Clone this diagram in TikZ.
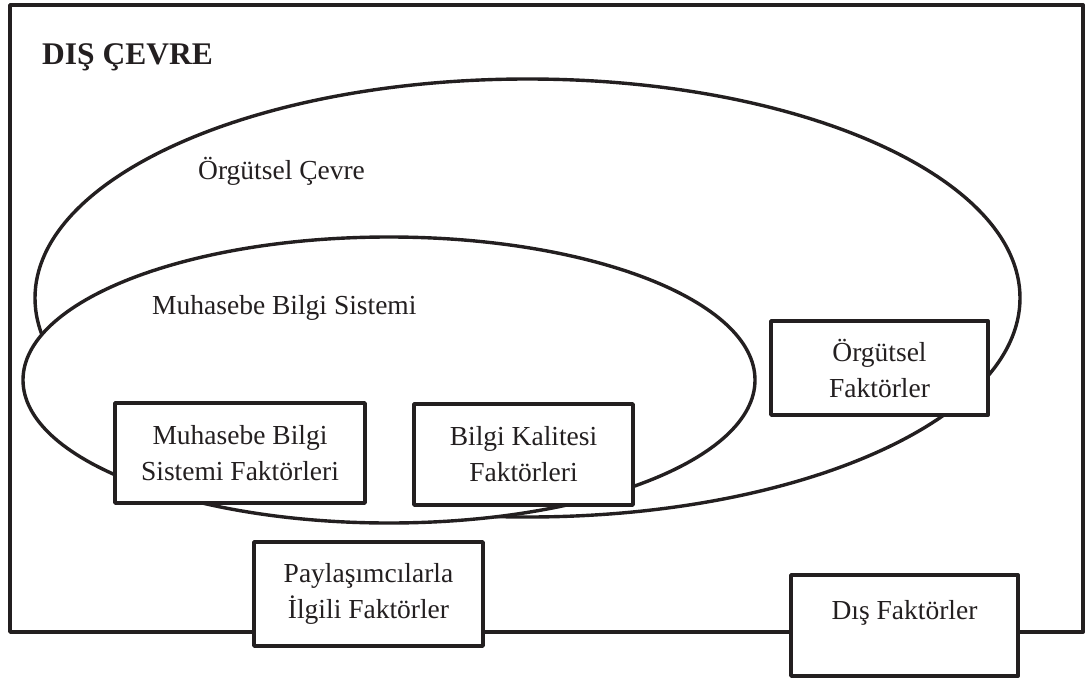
\documentclass[tikz,border=0pt]{standalone}
\usepackage{fontspec}
\setmainfont{Liberation Serif}
\usetikzlibrary{shapes.geometric}
\definecolor{inkc}{HTML}{231F20}
\begin{document}
\begin{tikzpicture}[x=1pt,y=-1pt,
  ink/.style={draw=inkc, line width=3.4pt, line join=round},
  region/.style={ink, ellipse, inner sep=0pt},
  factor/.style={ink, line width=3.8pt, fill=white, rectangle, align=center,
    inner sep=0pt, font=\fontsize{27.5}{36}\selectfont, text=inkc},
  caption/.style={anchor=base west, inner sep=0pt, text=inkc,
    font=\fontsize{27.5}{33}\selectfont},
]
\useasboundingbox (0,0) rectangle (1089,680);

% external environment frame
\node[ink, line width=3.8pt, rectangle, inner sep=0pt, minimum width=1073pt, minimum height=627pt]
  (env) at (546.5,318.5) {};
\node[anchor=base west, inner sep=0pt, text=inkc,
  font=\fontsize{31.5}{36}\selectfont\bfseries] (envtitle) at (42,64) {DIŞ ÇEVRE};

% organisational environment and accounting information system
\node[region, minimum width=985pt, minimum height=438pt] (org) at (527.5,298) {};
\node[region, fill=white, minimum width=732pt, minimum height=286pt] (mbs) at (389,380) {};
\node[caption] (orgtitle) at (198,179) {Örgütsel Çevre};
\node[caption] (mbstitle) at (152,314) {Muhasebe Bilgi Sistemi};

% factor boxes
\node[factor, minimum width=250pt, minimum height=100pt] (msf) at (240,453)
  {Muhasebe Bilgi\\Sistemi Faktörleri};
\node[factor, minimum width=219pt, minimum height=101pt] (bkf) at (523.5,454.5)
  {Bilgi Kalitesi\\Faktörleri};
\node[factor, minimum width=217pt, minimum height=94pt] (ogf) at (879.5,368)
  {Örgütsel\\Faktörler};
\node[factor, minimum width=229pt, minimum height=104pt] (pif) at (368.5,594)
  {Paylaşımcılarla\\İlgili Faktörler};
\node[factor, minimum width=227pt, minimum height=101pt] (dsf) at (904.5,625.5) {};
\node[inner sep=0pt, text=inkc, font=\fontsize{27.5}{36}\selectfont]
  (dsftext) at ([yshift=13pt]dsf.center) {Dış Faktörler};
\end{tikzpicture}
\end{document}
